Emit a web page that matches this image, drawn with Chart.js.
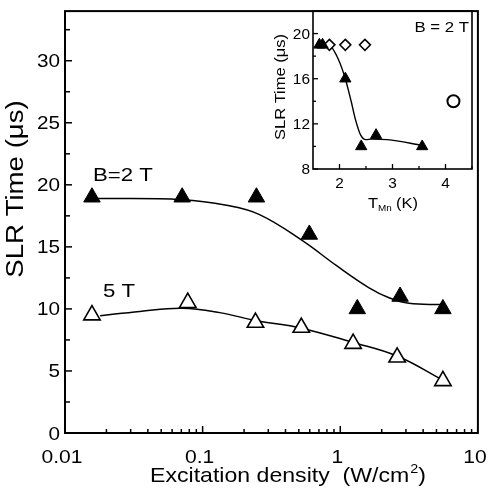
<!DOCTYPE html>
<html>
<head>
<meta charset="utf-8">
<script src="https://cdn.jsdelivr.net/npm/chart.js@4.4.1/dist/chart.umd.min.js"></script>
<style>
  html, body { margin: 0; padding: 0; background: #fff; }
  #wrap { position: relative; width: 489px; height: 497px; }
  #main { position: absolute; left: 0; top: 0; }
  #inset { position: absolute; left: 270px; top: 0; }
</style>
</head>
<body>
<div id="wrap">
  <canvas id="main" width="489" height="497"></canvas>
  <canvas id="inset" width="210" height="222"></canvas>
</div>
<script>
// main panel: SLR time vs excitation density
const density2T = [0.0157, 0.071, 0.246, 0.596, 1.33, 2.72, 5.57];
const slr2T = [19, 19, 19, 16, 10, 11, 10];
const density5T = [0.0157, 0.078, 0.242, 0.521, 1.24, 2.59, 5.57];
const slr5T = [9.5, 10.5, 8.9, 8.5, 7.2, 6.1, 4.2];
// hand-drawn guide curves
const fitDensity2T = [0.017, 0.071, 0.149, 0.259, 0.531, 0.935, 1.62, 2.26, 3.16, 5.48];
const fitSlr2T = [18.9, 18.8, 18.35, 17.6, 15.5, 13.5, 11.7, 10.9, 10.45, 10.35];
const fitDensity5T = [0.018, 0.035, 0.071, 0.133, 0.246, 0.52, 1.24, 2.59, 5.57];
const fitSlr5T = [9.45, 9.8, 10.05, 9.7, 9.05, 8.45, 7.3, 6.2, 4.25];

const xTicksMain = [0.01, 0.1, 1, 10];
const xTickLabelsMain = ['0.01', '0.1', '1', '10'];
const yTicksMain = [0, 5, 10, 15, 20, 25, 30];
const yTickLabelsMain = ['0', '5', '10', '15', '20', '25', '30'];

// inset: SLR time vs Mn temperature, B = 2 T
const tMnFilled = [1.62, 1.68, 2.11, 2.41, 2.69, 3.56];
const slrFilled = [19, 19, 16, 10, 11, 10];
const tMnOpen = [1.81, 2.11, 2.48];
const slrOpen = [19, 19, 19];
const tMnCircle = [4.15];
const slrCircle = [14];
const fitTMn = [1.6, 1.8, 1.94, 2.09, 2.22, 2.3, 2.4, 2.5, 2.6, 2.9, 3.56];
const fitSlrTMn = [19.05, 19.0, 18.1, 16.3, 14.0, 12.4, 11.0, 10.6, 10.65, 10.6, 10.1];

const xTicksInset = [2, 3, 4];
const xTickLabelsInset = ['2', '3', '4'];
const yTicksInset = [8, 12, 16, 20];
const yTickLabelsInset = ['8', '12', '16', '20'];

const FONT = '"Liberation Sans", Arial, sans-serif';

function pts(xs, ys) {
  return xs.map((x, i) => ({ x: x, y: ys[i] }));
}

function line(ctx, x1, y1, x2, y2) {
  ctx.beginPath();
  ctx.moveTo(x1, y1);
  ctx.lineTo(x2, y2);
  ctx.stroke();
}

// text is a bit wider than plain Helvetica in the scan, so stretch it
function text(ctx, str, x, y, size, sx, align, rot, baseline) {
  ctx.save();
  ctx.translate(x, y);
  if (rot) ctx.rotate(rot);
  ctx.scale(sx, 1);
  ctx.font = size + 'px ' + FONT;
  ctx.textAlign = align || 'left';
  ctx.textBaseline = baseline || 'alphabetic';
  ctx.fillStyle = '#000';
  ctx.fillText(str, 0, 0);
  ctx.restore();
}

const mainAxes = {
  id: 'mainAxes',
  afterDraw(chart) {
    const { ctx, chartArea: a } = chart;
    const x = chart.scales.x, y = chart.scales.y;
    ctx.save();
    ctx.strokeStyle = '#000';
    ctx.lineWidth = 1.5;
    for (let v = 0; v <= 32.5; v += 2.5) {
      const py = y.getPixelForValue(v);
      line(ctx, a.left, py, a.left + (v % 5 === 0 ? 7 : 5), py);
    }
    for (let d = 0.01; d < 5; d *= 10) {
      for (let m = 1; m <= 9; m++) {
        const px = x.getPixelForValue(d * m);
        line(ctx, px, a.bottom, px, a.bottom - (m === 1 ? 7 : 4));
      }
    }
    ctx.lineWidth = 2;
    ctx.strokeRect(a.left, a.top, a.right - a.left, a.bottom - a.top);

    yTicksMain.forEach((v, i) => {
      text(ctx, yTickLabelsMain[i], a.left - 5, y.getPixelForValue(v) + 6.5, 18, 1.15, 'right');
    });
    xTicksMain.forEach((v, i) => {
      text(ctx, xTickLabelsMain[i], x.getPixelForValue(v) - 3, 463, 18, 1.17, 'center');
    });
    text(ctx, 'SLR Time (\u03bcs)', 17, 189, 23, 1.2, 'center', -Math.PI / 2, 'middle');
    text(ctx, 'Excitation density  (W/cm', 150, 482, 21, 1.1, 'left');
    ctx.font = '21px ' + FONT;
    const w = ctx.measureText('Excitation density  (W/cm').width * 1.1;
    text(ctx, '2', 150 + w + 1, 473, 13, 1.1, 'left');
    text(ctx, ')', 150 + w + 9, 482, 21, 1.1, 'left');
    text(ctx, 'B=2 T', 93, 181, 19, 1.17, 'left');
    text(ctx, '5 T', 103, 297, 19, 1.17, 'left');
    ctx.restore();
  }
};

const insetAxes = {
  id: 'insetAxes',
  afterDraw(chart) {
    const { ctx, chartArea: a } = chart;
    const x = chart.scales.x, y = chart.scales.y;
    ctx.save();
    ctx.strokeStyle = '#000';
    ctx.lineWidth = 1.3;
    for (let v = 8; v <= 22; v += 2) {
      const py = y.getPixelForValue(v);
      line(ctx, a.left, py, a.left + (v % 4 === 0 ? 5 : 3), py);
    }
    for (let v = 2; v <= 4.5; v += 0.5) {
      const px = x.getPixelForValue(v);
      line(ctx, px, a.bottom, px, a.bottom - (v % 1 === 0 ? 5 : 3));
    }
    ctx.lineWidth = 1.6;
    ctx.strokeRect(a.left, a.top, a.right - a.left, a.bottom - a.top);

    yTicksInset.forEach((v, i) => {
      text(ctx, yTickLabelsInset[i], a.left - 3, y.getPixelForValue(v) + 5, 14, 1.1, 'right');
    });
    xTicksInset.forEach((v, i) => {
      text(ctx, xTickLabelsInset[i], x.getPixelForValue(v), 188, 14, 1.1, 'center');
    });
    text(ctx, 'SLR Time (\u03bcs)', 11, 87, 15, 1.1, 'center', -Math.PI / 2, 'middle');
    text(ctx, 'T', 98, 208, 15, 1.1, 'left');
    text(ctx, 'Mn', 108, 211, 9, 1.1, 'left');
    text(ctx, '(K)', 126, 208, 15, 1.1, 'left');
    text(ctx, 'B = 2 T', a.right - 3, 32, 14, 1.2, 'right');
    ctx.restore();
  }
};

const common = {
  responsive: false,
  animation: false,
  events: [],
  plugins: { legend: { display: false }, tooltip: { enabled: false } }
};

new Chart(document.getElementById('main'), {
  type: 'scatter',
  data: {
    datasets: [
      { data: pts(fitDensity2T, fitSlr2T), showLine: true, pointRadius: 0, borderColor: '#000',
        borderWidth: 1.5, tension: 0.4, order: 2 },
      { data: pts(fitDensity5T, fitSlr5T), showLine: true, pointRadius: 0, borderColor: '#000',
        borderWidth: 1.5, tension: 0.4, order: 2 },
      { data: pts(density2T, slr2T), pointStyle: 'triangle', pointRadius: 9.5,
        backgroundColor: '#000', borderColor: '#000', borderWidth: 1, order: 1 },
      { data: pts(density5T, slr5T), pointStyle: 'triangle', pointRadius: 9.5,
        backgroundColor: '#fff', borderColor: '#000', borderWidth: 1.6, order: 1 }
    ]
  },
  options: Object.assign({}, common, {
    layout: { padding: { left: 65, right: 10, top: 6, bottom: 64 } },
    scales: {
      x: { type: 'logarithmic', min: 0.01, max: 10, display: false },
      y: { type: 'linear', min: 0, max: 34, display: false }
    }
  }),
  plugins: [mainAxes]
});

new Chart(document.getElementById('inset'), {
  type: 'scatter',
  data: {
    datasets: [
      { data: pts(fitTMn, fitSlrTMn), showLine: true, pointRadius: 0, borderColor: '#000',
        borderWidth: 1.4, cubicInterpolationMode: 'monotone', order: 2 },
      { data: pts(tMnFilled, slrFilled), pointStyle: 'triangle', pointRadius: 6.5,
        backgroundColor: '#000', borderColor: '#000', borderWidth: 1, order: 1 },
      { data: pts(tMnOpen, slrOpen), pointStyle: 'rectRot', pointRadius: 5.5,
        backgroundColor: '#fff', borderColor: '#000', borderWidth: 1.5, order: 1 },
      { data: pts(tMnCircle, slrCircle), pointStyle: 'circle', pointRadius: 6,
        backgroundColor: '#fff', borderColor: '#000', borderWidth: 2, order: 1 }
    ]
  },
  options: Object.assign({}, common, {
    layout: { padding: { left: 43, right: 7, top: 11, bottom: 53 } },
    scales: {
      x: { type: 'linear', min: 1.5, max: 4.5, display: false },
      y: { type: 'linear', min: 8, max: 22, display: false }
    }
  }),
  plugins: [insetAxes]
});
</script>
</body>
</html>
